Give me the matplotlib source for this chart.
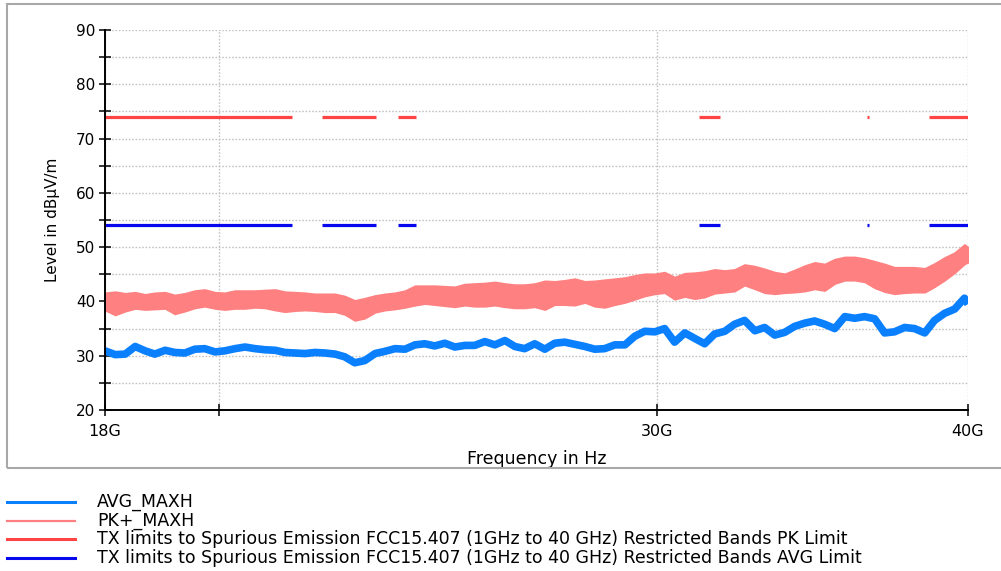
import matplotlib
matplotlib.use("Agg")
import matplotlib.pyplot as plt
from matplotlib.lines import Line2D
from matplotlib.patches import Rectangle
from matplotlib.ticker import NullFormatter

plt.rcParams['font.family'] = ['DejaVu Sans']

# frequency samples in GHz (log axis 18G..40G)
freq = [18.00, 18.17, 18.34, 18.51, 18.68, 18.85, 19.03, 19.20, 19.38, 19.56,
        19.74, 19.93, 20.11, 20.30, 20.49, 20.68, 20.87, 21.07, 21.26, 21.46,
        21.66, 21.86, 22.06, 22.27, 22.47, 22.68, 22.89, 23.11, 23.32, 23.54,
        23.76, 23.98, 24.20, 24.42, 24.65, 24.88, 25.11, 25.34, 25.58, 25.82,
        26.06, 26.30, 26.54, 26.79, 27.04, 27.29, 27.54, 27.80, 28.06, 28.32,
        28.58, 28.85, 29.12, 29.39, 29.66, 29.94, 30.21, 30.49, 30.78, 31.06,
        31.35, 31.64, 31.94, 32.23, 32.53, 32.84, 33.14, 33.45, 33.76, 34.07,
        34.39, 34.71, 35.03, 35.36, 35.69, 36.02, 36.35, 36.69, 37.03, 37.37,
        37.72, 38.07, 38.43, 38.78, 39.14, 39.51, 39.87, 40.00]

# AVG_MAXH trace (dBuV/m)
avg_maxh = [30.9, 30.2, 30.3, 31.7, 30.9, 30.3, 31.0, 30.6, 30.5, 31.2,
            31.3, 30.7, 30.9, 31.3, 31.6, 31.3, 31.1, 31.0, 30.6, 30.5,
            30.4, 30.6, 30.5, 30.3, 29.8, 28.7, 29.1, 30.4, 30.8, 31.3,
            31.2, 32.0, 32.2, 31.8, 32.3, 31.6, 31.9, 31.9, 32.6, 32.0,
            32.8, 31.7, 31.3, 32.2, 31.2, 32.3, 32.5, 32.1, 31.7, 31.2,
            31.3, 32.0, 32.0, 33.6, 34.5, 34.4, 35.0, 32.5, 34.2, 33.2,
            32.2, 34.0, 34.5, 35.8, 36.5, 34.6, 35.2, 33.8, 34.3, 35.4,
            36.0, 36.4, 35.8, 35.0, 37.2, 36.9, 37.2, 36.8, 34.2, 34.4,
            35.2, 35.0, 34.2, 36.5, 37.8, 38.6, 40.6, 39.5]

# PK+_MAXH trace, upper and lower edge of the noise band
pk_top = [41.6, 41.8, 41.5, 41.7, 41.3, 41.6, 41.7, 41.2, 41.5, 42.0,
          42.2, 41.7, 41.6, 42.0, 42.0, 42.0, 42.1, 42.2, 41.8, 41.7,
          41.6, 41.4, 41.4, 41.4, 41.0, 40.2, 40.6, 41.1, 41.4, 41.6,
          42.0, 42.9, 42.9, 42.9, 42.8, 42.7, 43.2, 43.3, 43.4, 43.6,
          43.3, 43.1, 43.1, 43.3, 43.8, 43.7, 43.9, 44.2, 43.7, 43.8,
          44.0, 44.2, 44.4, 44.8, 45.1, 45.1, 45.4, 44.5, 45.2, 45.3,
          45.5, 45.9, 45.7, 45.9, 46.8, 46.5, 46.0, 45.4, 45.1, 45.8,
          46.6, 47.2, 46.9, 47.8, 48.2, 48.2, 47.9, 47.4, 46.9, 46.3,
          46.3, 46.3, 46.1, 47.0, 48.1, 49.0, 50.5, 50.0]
pk_bottom = [38.4, 37.5, 38.2, 38.7, 38.5, 38.6, 38.7, 37.7, 38.2, 38.8,
             39.1, 38.7, 38.5, 38.7, 38.7, 38.9, 38.8, 38.4, 38.1, 38.3,
             38.4, 38.3, 38.1, 38.1, 37.6, 36.5, 36.9, 38.0, 38.4, 38.6,
             38.9, 39.3, 39.6, 39.4, 39.2, 39.0, 39.3, 39.1, 39.1, 39.3,
             39.0, 38.8, 38.8, 39.0, 38.5, 39.4, 39.4, 39.3, 39.8, 39.1,
             38.9, 39.4, 39.8, 40.4, 41.0, 41.4, 41.6, 40.4, 40.9, 40.5,
             40.8, 41.5, 41.7, 41.9, 43.0, 42.3, 41.6, 41.4, 41.6, 41.7,
             41.9, 42.3, 42.0, 43.3, 43.9, 43.9, 43.6, 42.5, 41.8, 41.4,
             41.6, 41.7, 41.7, 42.7, 43.9, 45.3, 46.9, 47.2]

# limits only drawn inside the restricted bands (GHz)
pk_limit = 74
avg_limit = 54
restricted_bands = [(18.0, 21.4), (22.01, 23.12), (23.6, 24.0),
                    (31.2, 31.8), (36.43, 36.5), (38.6, 40.0)]

x_ticks = [18, 30, 40]
x_tick_labels = ['18G', '30G', '40G']
x_minor = [20]
y_ticks = [20, 30, 40, 50, 60, 70, 80, 90]
y_minor = [25, 35, 45, 55, 65, 75, 85]

legend_labels = ['AVG_MAXH', 'PK+_MAXH',
                 'TX limits to Spurious Emission FCC15.407 (1GHz to 40 GHz) Restricted Bands PK Limit',
                 'TX limits to Spurious Emission FCC15.407 (1GHz to 40 GHz) Restricted Bands AVG Limit']

c_avg = '#0a80ff'
c_pk = '#ff8080'
c_pk_lim = '#ff4444'
c_avg_lim = '#0808ee'

fig = plt.figure(figsize=(10.01, 5.71), dpi=100)
ax = fig.add_axes([105/1001, 1 - 410/571, 863/1001, 380/571])

ax.set_xscale('log')
ax.set_xlim(18, 40)
ax.set_ylim(20, 90)

# grid, dotted
ax.set_xticks(x_ticks)
ax.set_xticklabels(x_tick_labels)
ax.set_xticks(x_minor, minor=True)
ax.xaxis.set_minor_formatter(NullFormatter())
ax.set_yticks(y_ticks)
ax.set_yticks(y_minor, minor=True)
ax.grid(True, which='both', color='#c4c4c4', linestyle=(0, (1.2, 1.2)), linewidth=1.0)
ax.set_axisbelow(True)

# traces
ax.fill_between(freq, pk_bottom, pk_top, color=c_pk, linewidth=1.2, edgecolor=c_pk, zorder=3)
ax.plot(freq, avg_maxh, color=c_avg, lw=5.5, solid_capstyle='butt', zorder=4)

for lo, hi in restricted_bands:
    ax.plot([lo, hi], [pk_limit, pk_limit], color=c_pk_lim, lw=2.3, solid_capstyle='butt', zorder=5)
    ax.plot([lo, hi], [avg_limit, avg_limit], color=c_avg_lim, lw=2.3, solid_capstyle='butt', zorder=5)

for s in ['top', 'right']:
    ax.spines[s].set_visible(False)
for s in ['left', 'bottom']:
    ax.spines[s].set_linewidth(1.4)
    ax.spines[s].set_zorder(6)

ax.tick_params(which='both', direction='inout', length=8, width=1.1, color='black')
ax.tick_params(axis='y', labelsize=11, pad=3)
ax.tick_params(axis='x', labelsize=11.5, pad=6)

ax.set_ylabel('Level in dBμV/m', fontsize=11)
ax.yaxis.set_label_coords(-45/863, 0.5)
ax.set_xlabel('Frequency in Hz', fontsize=12.5)
ax.xaxis.set_label_coords(0.5, -40/380)

# outer frame around the chart
fig.add_artist(Rectangle((7/1001, 1 - 468/571), 1.05, 464/571, transform=fig.transFigure,
                         fill=False, edgecolor='#a8a8a8', linewidth=1.5, zorder=10))

# legend below the chart
leg_colors = [c_avg, c_pk, c_pk_lim, c_avg_lim]
leg_y = [502, 521, 539, 558]
for lab, col, yy in zip(legend_labels, leg_colors, leg_y):
    yf = 1 - yy/571
    fig.add_artist(Line2D([7/1001, 75/1001], [yf, yf], transform=fig.transFigure,
                          color=col, lw=2.2 if col != c_pk else 1.6))
    fig.text(97/1001, yf, lab, fontsize=12.5, va='center', ha='left')

fig.savefig('out.png', dpi=100)
